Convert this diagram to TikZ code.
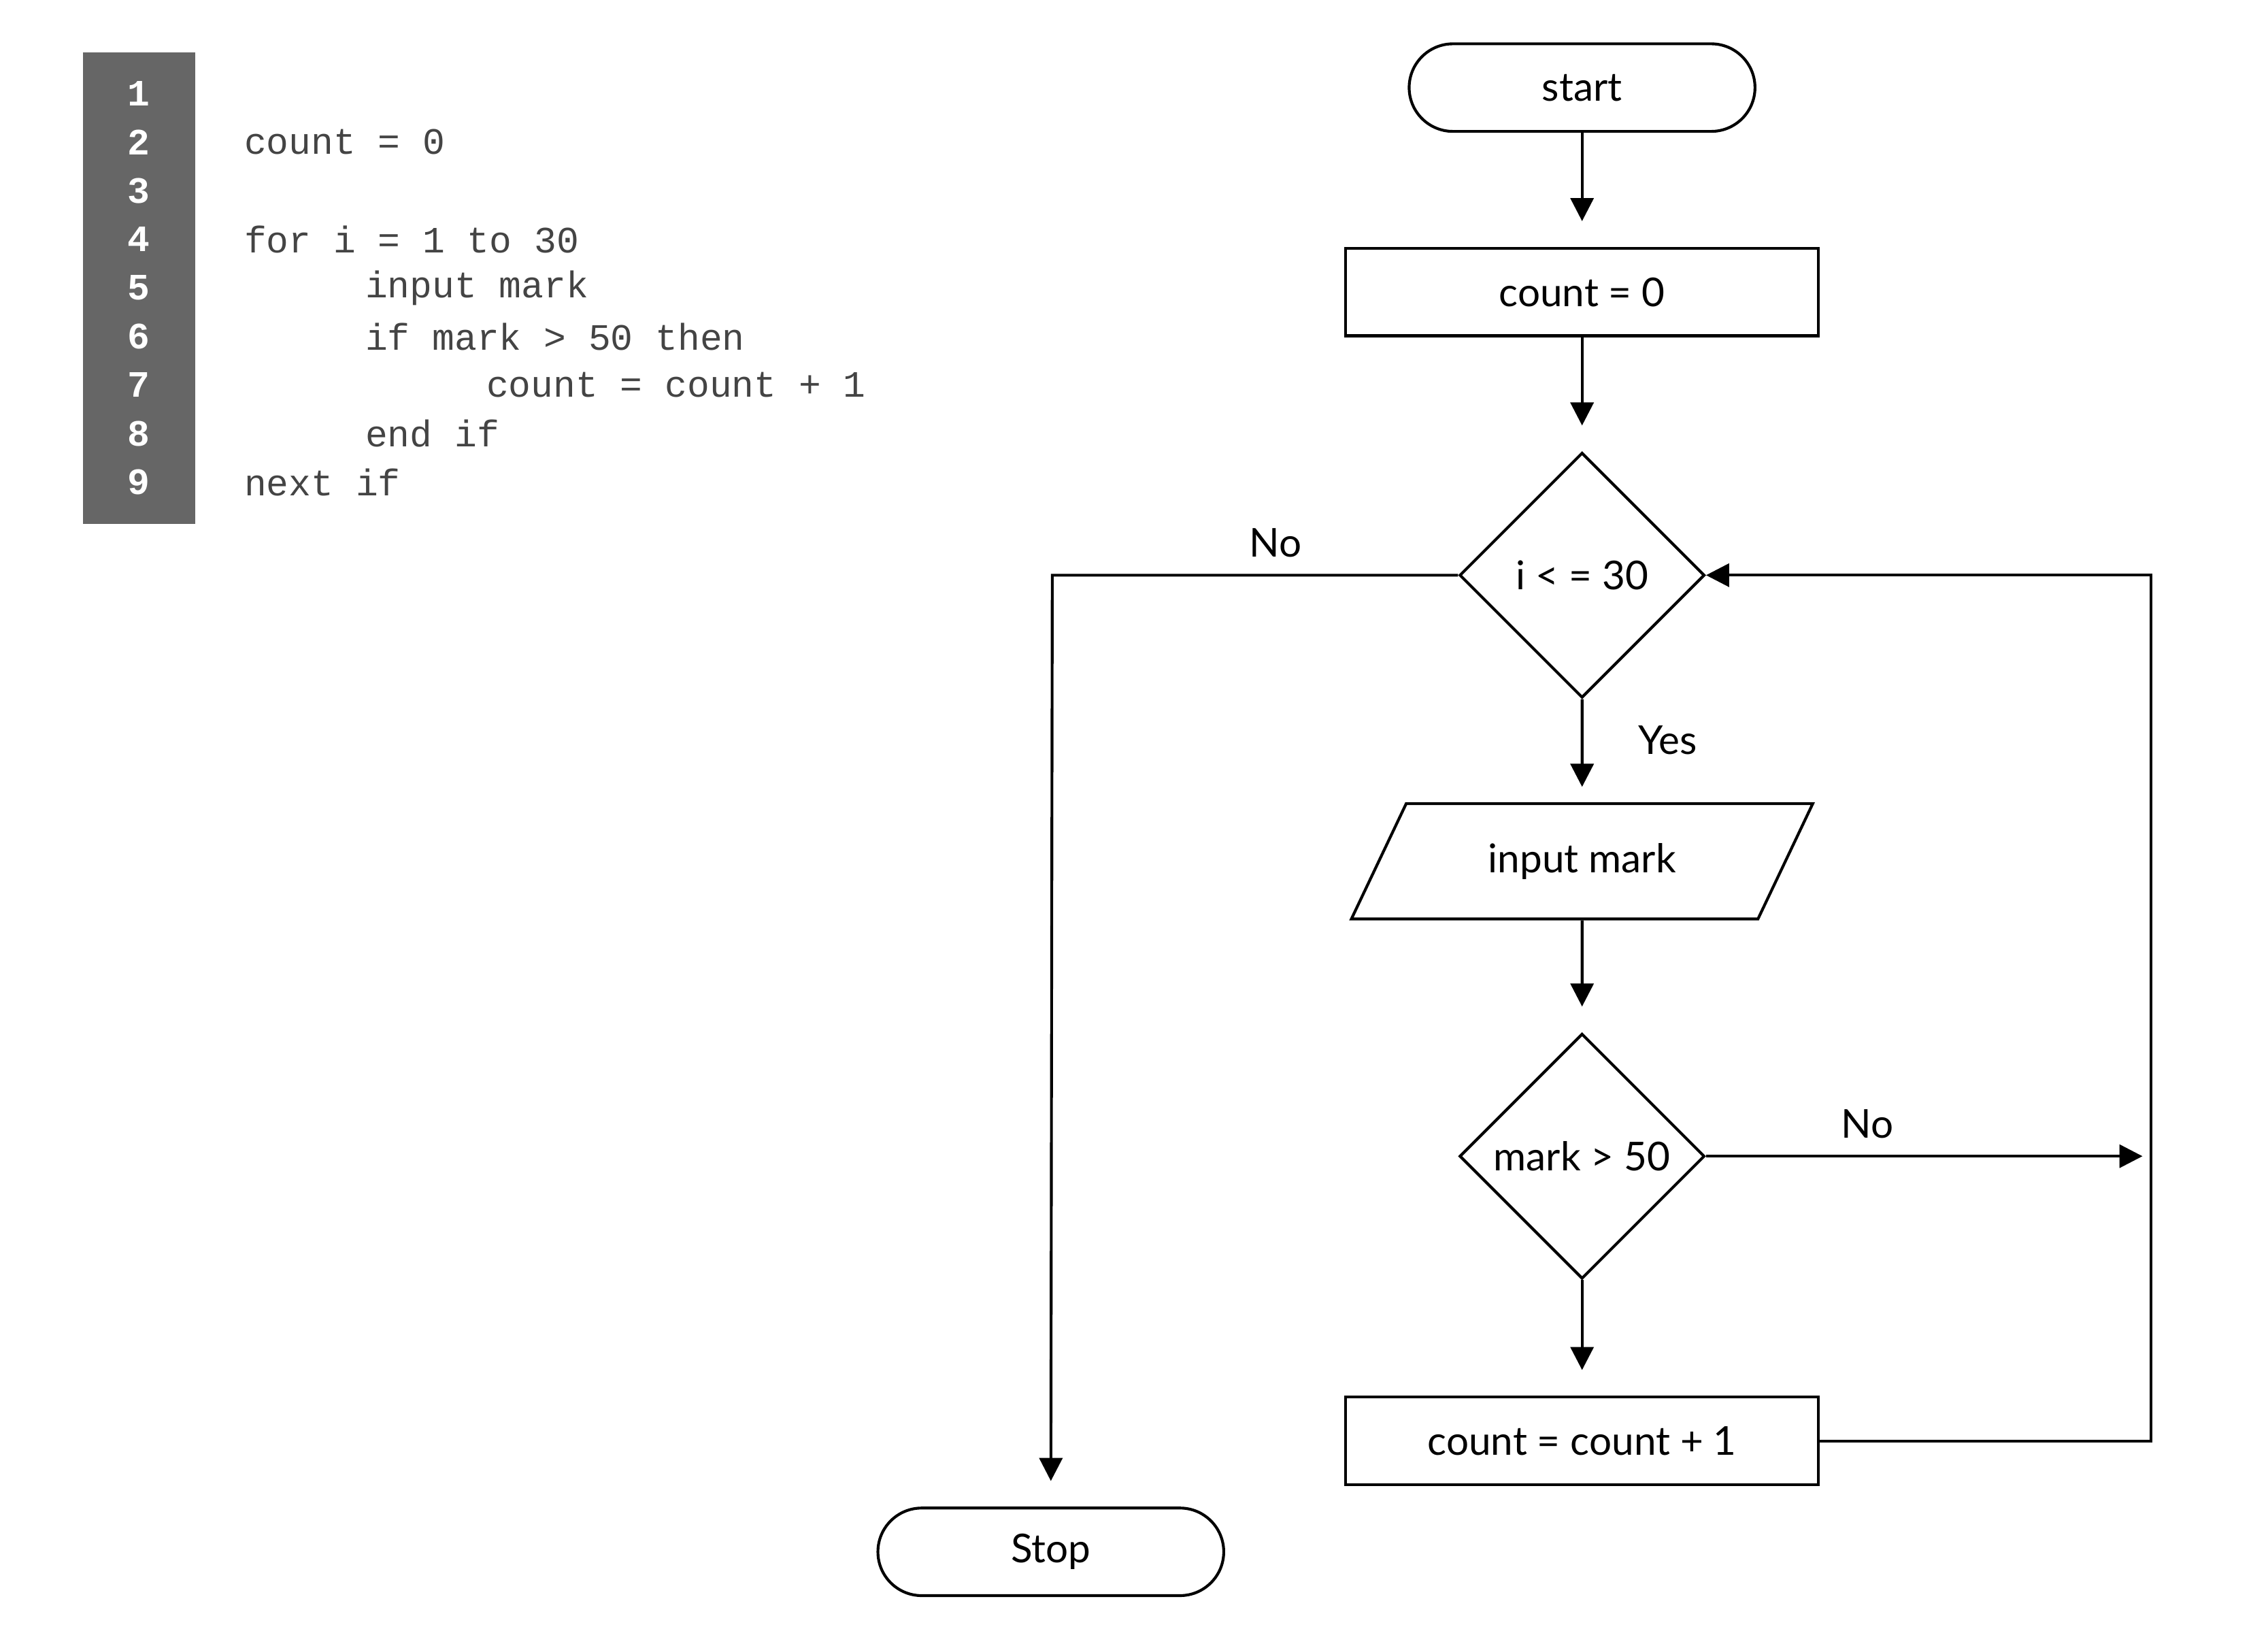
\documentclass[tikz,border=0pt]{standalone}
\usepackage{fontspec}
\setmainfont{Lato}
\setmonofont{Liberation Mono}
\usetikzlibrary{shapes.geometric,arrows.meta}

\definecolor{panelgray}{HTML}{666666}
\definecolor{codegray}{HTML}{444444}

\tikzset{
  flow/.style={draw, line width=1.1pt, font=\fontsize{15.5}{18}\selectfont, inner sep=0pt},
  terminal/.style={flow, rectangle, rounded corners=0.6cm, minimum width=4.74cm, minimum height=1.2cm},
  process/.style={flow, rectangle, minimum width=6.48cm, minimum height=1.2cm},
  decision/.style={flow, diamond, minimum width=3.36cm, minimum height=3.36cm},
  io/.style={flow, trapezium, trapezium left angle=51, trapezium right angle=129, trapezium stretches=true, minimum width=6.34cm, minimum height=1.58cm},
  link/.style={line width=1.1pt, -{Triangle[length=9pt,width=9pt]}},
  lbl/.style={font=\fontsize{15.5}{18}\selectfont},
  codeline/.style={anchor=west, font=\ttfamily\fontsize{14.5}{17}\selectfont, text=codegray, inner sep=0pt},
  lineno/.style={font=\ttfamily\bfseries\fontsize{14.5}{17}\selectfont, text=white, inner sep=0pt}
}

\begin{document}
\begin{tikzpicture}[x=0.02cm, y=-0.02cm]
  \useasboundingbox (0,0) rectangle (1554,1117);

  % Listado
  \fill[panelgray] (57,36) rectangle (134,359);
  \foreach \n in {1,...,9}
    \node[lineno] (num\n) at (95,{64+33.3*(\n-1)}) {\n};
  \node[codeline] (c2) at (167,97.3) {count = 0};
  \node[codeline] (c4) at (167,163.9) {for i = 1 to 30};
  \node[codeline] (c5) at (250,197.2) {input mark};
  \node[codeline] (c6) at (250,230.5) {if mark > 50 then};
  \node[codeline] (c7) at (333,263.8) {count = count + 1};
  \node[codeline] (c8) at (250,297.1) {end if};
  \node[codeline] (c9) at (167,330.4) {next if};

  % Diagrama
  \node[terminal] (start) at (1084,60) {start};
  \node[process] (init) at (1084,200) {count = 0};
  \node[decision] (loop) at (1084,394) {i < = 30};
  \node[io] (input) at (1084,590) {input mark};
  \node[decision] (test) at (1084,792) {mark > 50};
  \node[process] (incr) at (1084,987) {count = count + 1};
  \node[terminal] (stop) at (720,1063) {Stop};

  \coordinate (retcorner) at (1474,987);
  \coordinate (noend) at (1468,792);
  \coordinate (stopcorner) at (721,394);

  % Flechas
  \draw[link, shorten >=10pt] (start) -- (init);
  \draw[link, shorten >=10pt] (init) -- (loop);
  \draw[link, shorten >=6pt] (loop) -- (input) node[lbl, pos=0.4, right=18pt] {Yes};
  \draw[link, shorten >=10pt] (input) -- (test);
  \draw[link, shorten >=10pt] (test) -- (incr);
  \draw[link] (test.east) -- (noend) node[lbl, pos=0.37, above=3pt] {No};
  \draw[link] (incr.east) -- (retcorner) |- (loop.east);
  \draw[link, shorten >=10pt] (loop.west) -- (stopcorner) node[lbl, pos=0.45, above=3pt] {No} -- (stop.north);
\end{tikzpicture}
\end{document}
